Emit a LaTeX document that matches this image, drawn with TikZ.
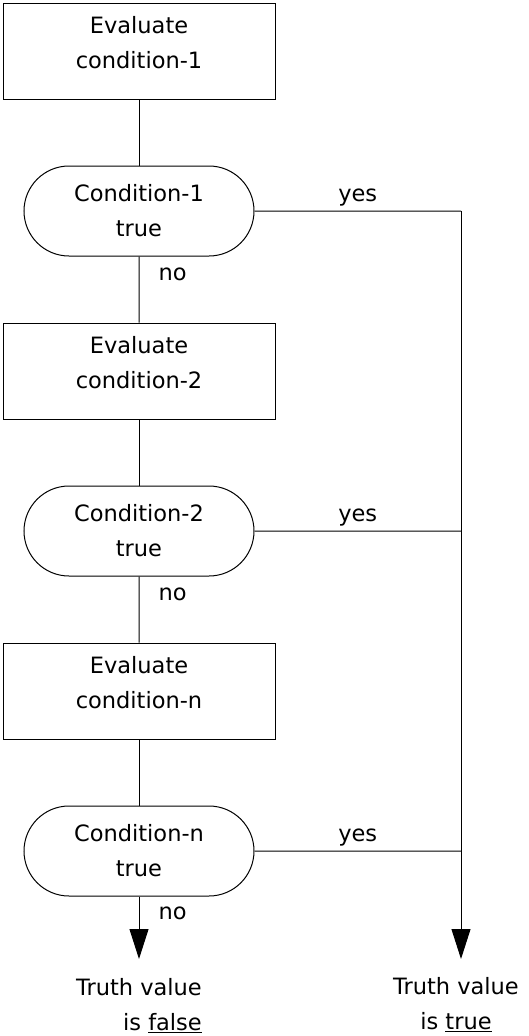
\documentclass[tikz,border=0pt]{standalone}
\usepackage{fontspec}
\setmainfont{DejaVu Sans}
\usetikzlibrary{arrows.meta, shapes.misc}
\tikzset{
  evalbox/.style={
    draw=black,
    line width=1pt,
    rectangle,
    minimum width=272pt,
    minimum height=96pt,
    inner sep=0pt,
    align=center,
    text depth=18pt,
    font=\fontsize{22.5}{35}\selectfont
  },
  testbox/.style={
    draw=black,
    line width=1pt,
    rounded rectangle,
    minimum width=230pt,
    minimum height=90pt,
    inner sep=0pt,
    align=center,
    font=\fontsize{22.5}{35}\selectfont
  },
  flowtext/.style={
    inner sep=0pt,
    font=\fontsize{22.5}{35}\selectfont
  },
  yeslabel/.style={flowtext, above=4pt, midway},
  nolabel/.style={flowtext, right=19pt, pos=0.27},
  every edge/.style={
    draw=black,
    line width=1pt
  },
  flowarrow/.style={-{Triangle[length=30pt, width=19pt]}}
}
\begin{document}
\begin{tikzpicture}[x=1pt, y=1pt]
  \useasboundingbox (0,0) rectangle (528,-1036);

  \node[evalbox] (eval1) at (139,-51) {Evaluate\\condition-1};
  \node[testbox] (test1) at (139,-211) {Condition-1\\true};
  \node[evalbox] (eval2) at (139,-371) {Evaluate\\condition-2};
  \node[testbox] (test2) at (139,-531) {Condition-2\\true};
  \node[evalbox] (eval3) at (139,-691) {Evaluate\\condition-n};
  \node[testbox] (test3) at (139,-851) {Condition-n\\true};

  \coordinate (falseend) at (139,-959);
  \coordinate (truetop) at (461,-211);
  \coordinate (trueend) at (461,-959);

  \node[flowtext, align=right, anchor=north east] (falsetext) at (202,-978) {Truth value\\is \underline{false}};
  \node[flowtext, align=center, anchor=north] (truetext) at (456,-977) {Truth value\\is \underline{true}};

  \path (eval1) edge (test1)
        (test1) edge node[nolabel]{no} (eval2)
        (eval2) edge (test2)
        (test2) edge node[nolabel]{no} (eval3)
        (eval3) edge (test3)
        (test3) edge[flowarrow] node[nolabel]{no} (falseend)
        (test1) edge node[yeslabel]{yes} (truetop)
        (test2) edge node[yeslabel]{yes} (test2 -| truetop)
        (test3) edge node[yeslabel]{yes} (test3 -| truetop)
        (truetop) edge[flowarrow] (trueend);
\end{tikzpicture}
\end{document}
